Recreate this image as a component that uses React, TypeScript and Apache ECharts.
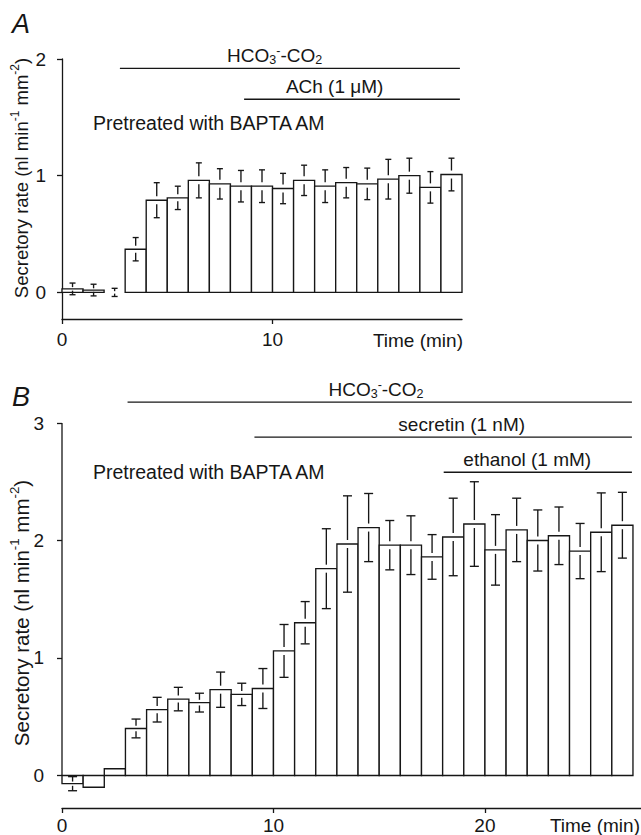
import React, { useEffect, useRef } from "react";
import * as echarts from "echarts";

const FONT = '"Liberation Sans", Arial, Helvetica, sans-serif';
const INK = "#161616";
const BIN_WIDTH = 1; // each bar covers one minute

// ---------- Panel A ----------
const A_BIN_START = [0, 1, 2, 3, 4, 5, 6, 7, 8, 9, 10, 11, 12, 13, 14, 15, 16, 17, 18];
const A_MEAN = [0.03, 0.02, 0.0, 0.37, 0.79, 0.81, 0.96, 0.93, 0.91, 0.91, 0.89, 0.96, 0.91, 0.94, 0.93, 0.97, 1.0, 0.9, 1.01];
const A_SEM = [0.05, 0.05, 0.035, 0.1, 0.15, 0.1, 0.15, 0.13, 0.135, 0.14, 0.13, 0.13, 0.14, 0.13, 0.135, 0.17, 0.15, 0.135, 0.14];
const A_X_TICKS = [0, 10];
const A_Y_TICKS = [0, 1, 2];
const A_TREAT_LABELS = ["{m|HCO}{sub|3}{sup|-}{m|-CO}{sub|2}", "{m|ACh (1 μM)}"];
const A_TREAT_START = [2.75, 8.65];
const A_TREAT_END = [18.9, 18.9];
const A_TREAT_LEVEL = [1.92, 1.655];
const A_TREAT_LABEL_AT = [10.1, 12.95];

// ---------- Panel B ----------
const B_BIN_START = [0, 1, 2, 3, 4, 5, 6, 7, 8, 9, 10, 11, 12, 13, 14, 15, 16, 17, 18, 19, 20, 21, 22, 23, 24, 25, 26];
const B_MEAN = [-0.07, -0.1, 0.057, 0.4, 0.56, 0.65, 0.62, 0.73, 0.69, 0.74, 1.06, 1.3, 1.76, 1.97, 2.11, 1.96, 1.96, 1.86, 2.03, 2.14, 1.92, 2.09, 2.0, 2.04, 1.91, 2.07, 2.13];
const B_SEM = [0.06, 0, 0, 0.08, 0.105, 0.1, 0.08, 0.15, 0.095, 0.17, 0.225, 0.18, 0.34, 0.41, 0.29, 0.21, 0.25, 0.19, 0.33, 0.36, 0.3, 0.27, 0.26, 0.245, 0.235, 0.335, 0.28];
const B_X_TICKS = [0, 10, 20];
const B_Y_TICKS = [0, 1, 2, 3];
const B_TREAT_LABELS = ["{m|HCO}{sub|3}{sup|-}{m|-CO}{sub|2}", "{m|secretin (1 nM)}", "{m|ethanol (1 mM)}"];
const B_TREAT_START = [3.1, 9.1, 18.05];
const B_TREAT_END = [26.95, 26.95, 26.95];
const B_TREAT_LEVEL = [3.177, 2.879, 2.581];
const B_TREAT_LABEL_AT = [14.85, 18.9, 22.0];

const Y_TITLE = "{m|Secretory rate (nl min}{sup|-1}{m| mm}{sup|-2}{m|)}";

const RICH = {
  m: { fontSize: 19, lineHeight: 22, fontFamily: FONT, color: INK },
  sub: { fontSize: 12.5, lineHeight: 12, fontFamily: FONT, color: INK, verticalAlign: "bottom" },
  sup: { fontSize: 12.5, lineHeight: 12, fontFamily: FONT, color: INK, verticalAlign: "top" },
};
const richTitle = (size: number) => ({
  m: { fontSize: size, lineHeight: size + 5, fontFamily: FONT, fill: INK },
  sup: { fontSize: size * 0.65, lineHeight: size * 0.65, fontFamily: FONT, fill: INK, verticalAlign: "top" },
});

const makeBarRender = (capHalf: number) => (params: any, api: any) => {
  const t0 = api.value(0);
  const m = api.value(1);
  const se = api.value(2);
  const base = api.coord([t0, 0]);
  const tip = api.coord([t0 + BIN_WIDTH, m]);
  const x0 = base[0];
  const x1 = tip[0];
  const y0 = base[1];
  const ym = tip[1];
  const cx = (x0 + x1) / 2;
  const children: any[] = [];
  if (Math.abs(ym - y0) > 0.5) {
    children.push({
      type: "rect",
      shape: { x: x0, y: Math.min(y0, ym), width: x1 - x0, height: Math.abs(ym - y0) },
      style: { fill: "#ffffff", stroke: INK, lineWidth: 1.35 },
    });
  }
  if (se > 0) {
    const yHi = api.coord([t0, m + se])[1];
    const yLo = api.coord([t0, m - se])[1];
    const gap = Math.min(4, (ym - yHi) * 0.3);
    const ls = { stroke: INK, lineWidth: 1.35 };
    if (ym - gap > yHi) children.push({ type: "line", shape: { x1: cx, y1: yHi, x2: cx, y2: ym - gap }, style: ls });
    if (yLo > ym + gap) children.push({ type: "line", shape: { x1: cx, y1: ym + gap, x2: cx, y2: yLo }, style: ls });
    children.push({ type: "line", shape: { x1: cx - capHalf, y1: yHi, x2: cx + capHalf, y2: yHi }, style: ls });
    children.push({ type: "line", shape: { x1: cx - capHalf, y1: yLo, x2: cx + capHalf, y2: yLo }, style: ls });
  }
  return { type: "group", children };
};

const makeTreatRender = (labels: string[]) => (params: any, api: any) => {
  const s = api.value(0);
  const e = api.value(1);
  const lv = api.value(2);
  const la = api.value(3);
  const p1 = api.coord([s, lv]);
  const p2 = api.coord([e, lv]);
  const pl = api.coord([la, lv]);
  return {
    type: "group",
    children: [
      { type: "line", shape: { x1: p1[0], y1: p1[1], x2: p2[0], y2: p2[1] }, style: { stroke: INK, lineWidth: 1.3 } },
      {
        type: "text",
        x: pl[0],
        y: p1[1] - 2,
        style: {
          text: labels[params.dataIndex],
          rich: RICH,
          align: "center",
          verticalAlign: "bottom",
          fontSize: 19,
          fontFamily: FONT,
          fill: INK,
        },
      },
    ],
  };
};

const yAxisLineRender = (params: any, api: any) => {
  const a = api.coord([api.value(0), api.value(1)]);
  const b = api.coord([api.value(0), api.value(2)]);
  return { type: "line", shape: { x1: a[0], y1: a[1], x2: b[0], y2: b[1] }, style: { stroke: INK, lineWidth: 1.3 } };
};

const axisText = { fontSize: 19, fontFamily: FONT, color: INK };
const lineStyle = { color: INK, width: 1.3 };

export default function App() {
  const ref = useRef<HTMLDivElement>(null);
  useEffect(() => {
    document.body.style.margin = "0";
    if (!ref.current) return;
    const chart = echarts.init(ref.current, undefined, { renderer: "svg" });
    const aBars = A_BIN_START.map((t, i) => [t, A_MEAN[i], A_SEM[i]]);
    const bBars = B_BIN_START.map((t, i) => [t, B_MEAN[i], B_SEM[i]]);
    const aTreat = A_TREAT_START.map((s, i) => [s, A_TREAT_END[i], A_TREAT_LEVEL[i], A_TREAT_LABEL_AT[i]]);
    const bTreat = B_TREAT_START.map((s, i) => [s, B_TREAT_END[i], B_TREAT_LEVEL[i], B_TREAT_LABEL_AT[i]]);
    const option: any = {
      animation: false,
      backgroundColor: "#ffffff",
      grid: [
        { left: 62, top: 59, width: 400, height: 260 },
        { left: 62, top: 423, width: 579, height: 385 },
      ],
      xAxis: [
        {
          gridIndex: 0, type: "value", min: 0, max: 19,
          axisLine: { onZero: false, lineStyle },
          axisTick: { show: true, customValues: A_X_TICKS, length: 5, lineStyle },
          axisLabel: { customValues: A_X_TICKS, margin: 11, ...axisText },
          splitLine: { show: false },
        },
        {
          gridIndex: 1, type: "value", min: 0, max: 27.38,
          axisLine: { onZero: false, lineStyle },
          axisTick: { show: true, customValues: B_X_TICKS, length: 5, lineStyle },
          axisLabel: { customValues: B_X_TICKS, margin: 8, ...axisText },
          splitLine: { show: false },
        },
      ],
      yAxis: [
        {
          gridIndex: 0, type: "value", min: -0.228, max: 2,
          axisLine: { show: true, onZero: false, lineStyle },
          axisTick: { show: true, customValues: A_Y_TICKS, length: 5, lineStyle },
          axisLabel: { customValues: A_Y_TICKS, margin: 16, ...axisText },
          splitLine: { show: false },
        },
        {
          gridIndex: 1, type: "value", min: -0.277, max: 3,
          axisLine: { show: false },
          axisTick: { show: true, customValues: B_Y_TICKS, length: 5, lineStyle },
          axisLabel: { customValues: B_Y_TICKS, margin: 18, ...axisText },
          splitLine: { show: false },
        },
      ],
      series: [
        { type: "custom", xAxisIndex: 0, yAxisIndex: 0, renderItem: makeBarRender(3), data: aBars, clip: false },
        { type: "custom", xAxisIndex: 0, yAxisIndex: 0, renderItem: makeTreatRender(A_TREAT_LABELS), data: aTreat, clip: false },
        { type: "custom", xAxisIndex: 1, yAxisIndex: 1, renderItem: yAxisLineRender, data: [[0, 0, 3]], clip: false },
        { type: "custom", xAxisIndex: 1, yAxisIndex: 1, renderItem: makeBarRender(4.5), data: bBars, clip: false },
        { type: "custom", xAxisIndex: 1, yAxisIndex: 1, renderItem: makeTreatRender(B_TREAT_LABELS), data: bTreat, clip: false },
      ],
      graphic: [
        { type: "text", x: 12, y: 24, style: { text: "A", fontSize: 27, fontStyle: "italic", fontFamily: FONT, fill: INK, align: "left", verticalAlign: "middle" } },
        { type: "text", x: 12, y: 397, style: { text: "B", fontSize: 27, fontStyle: "italic", fontFamily: FONT, fill: INK, align: "left", verticalAlign: "middle" } },
        { type: "text", x: 93, y: 123, style: { text: "Pretreated with BAPTA AM", fontSize: 19.5, fontFamily: FONT, fill: INK, align: "left", verticalAlign: "middle" } },
        { type: "text", x: 93, y: 472, style: { text: "Pretreated with BAPTA AM", fontSize: 19.5, fontFamily: FONT, fill: INK, align: "left", verticalAlign: "middle" } },
        { type: "text", x: 463, y: 340, style: { text: "Time (min)", fontSize: 19, fontFamily: FONT, fill: INK, align: "right", verticalAlign: "middle" } },
        { type: "text", x: 640, y: 825, style: { text: "Time (min)", fontSize: 19, fontFamily: FONT, fill: INK, align: "right", verticalAlign: "middle" } },
        {
          type: "text", x: 21, y: 178, rotation: Math.PI / 2,
          style: { text: Y_TITLE, rich: richTitle(18.5), fontSize: 18.5, fontFamily: FONT, fill: INK, align: "center", verticalAlign: "middle" },
        },
        {
          type: "text", x: 21, y: 613, rotation: Math.PI / 2,
          style: { text: Y_TITLE, rich: richTitle(20.5), fontSize: 20.5, fontFamily: FONT, fill: INK, align: "center", verticalAlign: "middle" },
        },
      ],
    };
    chart.setOption(option);
    return () => chart.dispose();
  }, []);
  return <div ref={ref} style={{ width: 641, height: 835 }} />;
}
